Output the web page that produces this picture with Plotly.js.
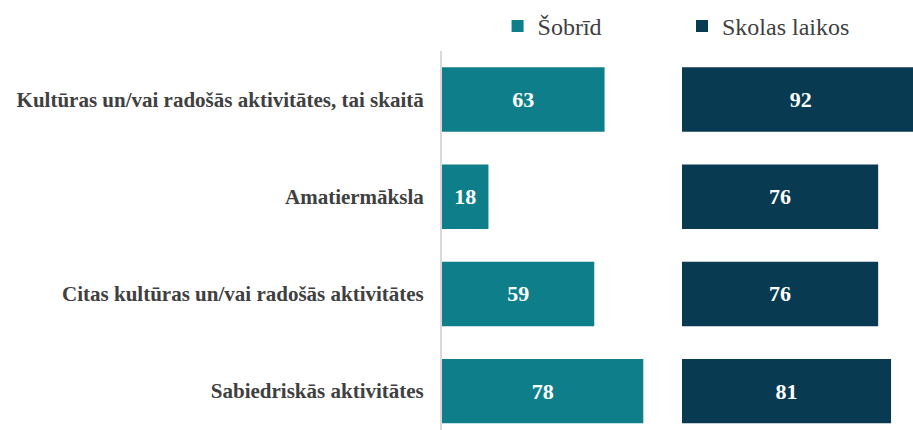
<!DOCTYPE html>
<html>
<head>
<meta charset="utf-8">
<script src="https://cdn.plot.ly/plotly-3.0.1.min.js"></script>
<style>
  html, body { margin: 0; padding: 0; background: #fff; }
  #chart { width: 913px; height: 430px; }
</style>
</head>
<body>
<div id="chart"></div>
<script>
var categories = [
  'Kultūras un/vai radošās aktivitātes, tai skaitā',
  'Amatiermāksla',
  'Citas kultūras un/vai radošās aktivitātes',
  'Sabiedriskās aktivitātes'
];
var sobrid = [63, 18, 59, 78];
var skolasLaikos = [92, 76, 76, 81];

var serif = 'Liberation Serif';

var trace1 = {
  type: 'bar',
  orientation: 'h',
  name: 'Šobrīd',
  y: categories,
  x: sobrid,
  text: sobrid.map(String),
  textposition: 'inside',
  insidetextanchor: 'middle',
  constraintext: 'none',
  textfont: {family: serif, size: 22, color: '#ffffff', weight: 700},
  marker: {color: '#0e7f8a'},
  xaxis: 'x',
  yaxis: 'y',
  legend: 'legend',
  hoverinfo: 'none'
};

var trace2 = {
  type: 'bar',
  orientation: 'h',
  name: 'Skolas laikos',
  y: categories,
  x: skolasLaikos,
  text: skolasLaikos.map(String),
  textposition: 'inside',
  insidetextanchor: 'middle',
  constraintext: 'none',
  textfont: {family: serif, size: 22, color: '#ffffff', weight: 700},
  marker: {color: '#083a52'},
  xaxis: 'x2',
  yaxis: 'y2',
  legend: 'legend2',
  hoverinfo: 'none'
};

var legendFont = {family: serif, size: 24, color: '#404040'};

var layout = {
  width: 913,
  height: 430,
  font: {family: serif},
  margin: {l: 0, r: 0, t: 51, b: 0},
  paper_bgcolor: '#ffffff',
  plot_bgcolor: 'rgba(0,0,0,0)',
  bargap: 0.337,
  showlegend: true,
  legend: {
    orientation: 'h',
    x: 0.545, xanchor: 'left',
    y: 1.065, yanchor: 'middle',
    font: legendFont,
    bgcolor: 'rgba(0,0,0,0)'
  },
  legend2: {
    orientation: 'h',
    x: 0.747, xanchor: 'left',
    y: 1.065, yanchor: 'middle',
    font: legendFont,
    bgcolor: 'rgba(0,0,0,0)'
  },
  xaxis: {
    domain: [442 / 913, 682 / 913],
    range: [0, 93],
    showgrid: false, zeroline: false, showticklabels: false, showline: false
  },
  xaxis2: {
    domain: [682 / 913, 1],
    range: [0, 89.5],
    showgrid: false, zeroline: false, showticklabels: false, showline: false
  },
  yaxis: {
    anchor: 'x',
    type: 'category',
    categoryarray: categories,
    range: [3.4, -0.5],
    showgrid: false, zeroline: false,
    showline: true, linecolor: '#d9d9d9', linewidth: 2,
    ticks: 'outside', ticklen: 12, tickcolor: 'rgba(0,0,0,0)',
    tickfont: {family: serif, size: 21, color: '#404040', weight: 700}
  },
  yaxis2: {
    anchor: 'x2',
    type: 'category',
    categoryarray: categories,
    range: [3.4, -0.5],
    matches: 'y',
    showgrid: false, zeroline: false, showline: false, showticklabels: false
  }
};

Plotly.newPlot('chart', [trace1, trace2], layout, {displayModeBar: false, staticPlot: true});
</script>
</body>
</html>
